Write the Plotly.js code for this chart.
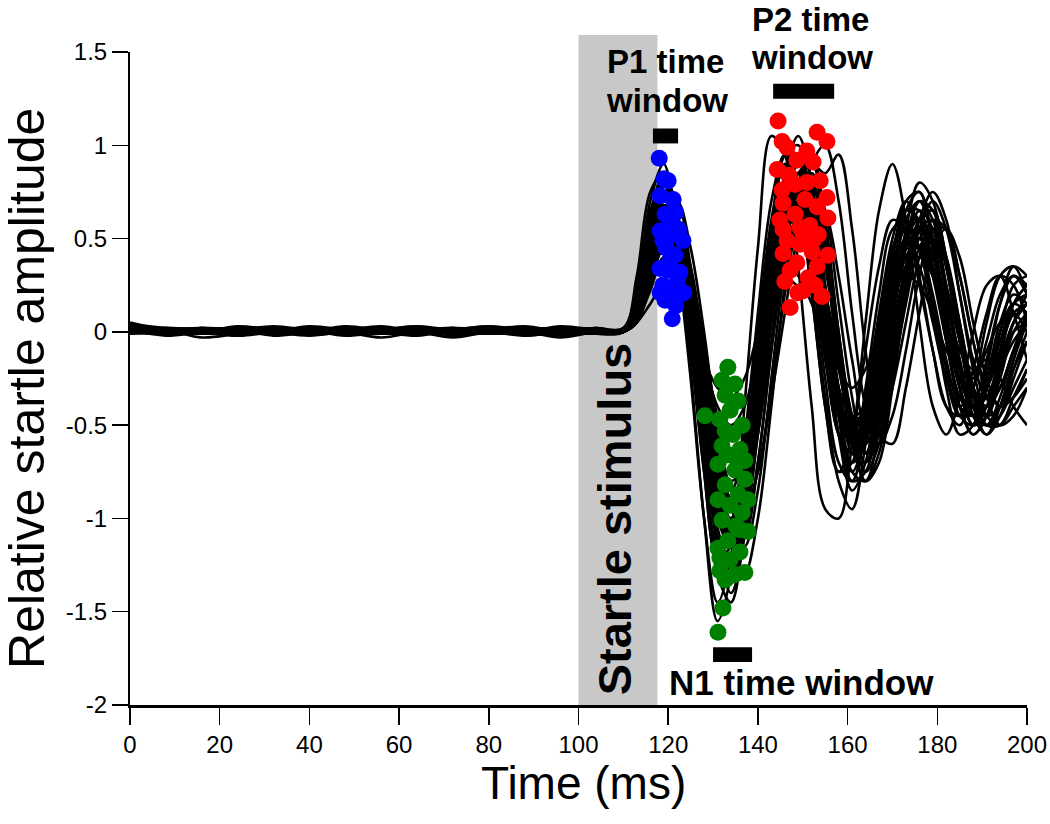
<!DOCTYPE html>
<html>
<head>
<meta charset="utf-8">
<script src="https://cdn.plot.ly/plotly-3.0.1.min.js"></script>
<style>html,body{margin:0;padding:0;background:#fff;}#chart{width:1050px;height:824px;}</style>
</head>
<body>
<div id="chart"></div>
<script>
// Sample times (ms)
const TIME = [0,8,16,24,32,40,48,56,64,72,80,88,96,104,110,113,116,119,122,125,128,131,134,137,140,143,146,149,152,155,158,161,164,167,170,173,176,179,182,185,188,191,194,197,200];

// Individual startle traces (relative amplitude at TIME samples)
const trace01 = [0.05,0.01,-0.01,0.00,0.01,0.02,0.00,-0.01,0.01,0.00,0.02,0.01,0.00,0.01, 0.02,0.25,0.70,0.90,0.50,-0.20,-1.00,-1.55,-1.30,-0.60,0.10,0.70,0.95,0.75,0.25,-0.35,-0.80,-0.95,-0.60,-0.10,0.35,0.55,0.45,0.15,-0.20,-0.45,-0.50,-0.30,0.00,0.15,0.10];
const trace02 = [0.02,-0.01,0.00,0.02,0.01,-0.01,0.00,0.02,0.01,-0.01,0.00,0.01,0.02,0.00, 0.00,0.12,0.45,0.70,0.60,0.20,-0.40,-0.90,-1.05,-0.85,-0.35,0.20,0.60,0.75,0.55,0.05,-0.40,-0.60,-0.50,-0.15,0.20,0.40,0.45,0.30,0.00,-0.25,-0.40,-0.35,-0.15,0.05,0.15];
const trace03 = [0.00,0.01,-0.03,-0.01,0.01,0.00,0.02,0.01,-0.01,0.00,0.01,-0.01,0.00,0.01, 0.00,0.05,0.15,0.25,0.20,0.05,-0.15,-0.30,-0.35,-0.25,0.00,0.25,0.35,0.30,0.15,-0.05,-0.20,-0.30,-0.20,0.00,0.20,0.30,0.25,0.10,-0.10,-0.20,-0.25,-0.10,0.05,0.10,0.00];
const trace04 = [0.01,0.00,0.01,-0.01,0.00,0.03,0.01,-0.01,0.00,0.02,0.00,-0.01,0.01,0.00, 0.00,0.05,0.30,0.60,0.70,0.45,0.00,-0.55,-0.95,-1.05,-0.70,-0.10,0.40,0.80,0.95,0.60,0.00,-0.45,-0.65,-0.50,-0.10,0.30,0.55,0.60,0.35,0.00,-0.30,-0.45,-0.40,-0.20,-0.05];
const trace05 = [0.02,0.01,0.00,0.01,-0.02,0.00,0.01,0.02,0.00,-0.01,0.01,0.03,0.00,-0.01, 0.01,0.20,0.55,0.80,0.55,0.00,-0.65,-1.20,-1.30,-0.95,-0.30,0.35,0.85,1.05,0.80,0.25,-0.35,-0.75,-0.80,-0.50,-0.05,0.35,0.60,0.65,0.40,0.05,-0.30,-0.50,-0.45,-0.25,-0.05];
const trace06 = [-0.01,0.00,0.02,0.01,0.00,-0.01,0.01,0.00,0.01,0.02,0.00,0.00,-0.03,0.00, 0.00,0.10,0.40,0.60,0.45,0.05,-0.45,-0.85,-0.95,-0.70,-0.20,0.30,0.55,0.55,0.30,-0.10,-0.45,-0.55,-0.35,0.00,0.30,0.45,0.35,0.05,-0.25,-0.40,-0.30,-0.05,0.20,0.30,0.25];
const trace07 = [0.03,0.01,-0.01,0.00,0.02,0.01,-0.02,0.00,0.01,0.00,-0.01,0.01,0.02,0.01, 0.00,0.08,0.35,0.55,0.50,0.25,-0.15,-0.60,-0.90,-0.95,-0.75,-0.35,0.10,0.55,0.90,1.00,0.70,0.10,-0.40,-0.60,-0.45,-0.10,0.30,0.55,0.55,0.30,-0.05,-0.35,-0.50,-0.45,-0.30];
const trace08 = [0.01,0.02,0.00,-0.01,0.01,0.00,0.01,0.03,0.00,-0.01,0.00,0.01,0.00,0.02, 0.02,0.30,0.75,0.85,0.40,-0.25,-1.00,-1.45,-1.20,-0.40,0.45,1.05,0.95,0.35,-0.40,-0.95,-1.00,-0.60,-0.10,0.35,0.60,0.55,0.25,-0.10,-0.40,-0.50,-0.30,0.05,0.30,0.35,0.20];
const trace09 = [0.00,-0.01,0.01,0.02,0.00,-0.02,0.00,0.01,0.00,0.01,0.03,0.00,-0.01,0.00, 0.00,0.10,0.45,0.75,0.70,0.35,-0.20,-0.75,-1.10,-1.00,-0.55,0.05,0.50,0.75,0.70,0.35,-0.10,-0.50,-0.65,-0.45,-0.05,0.35,0.55,0.50,0.20,-0.15,-0.40,-0.45,-0.25,0.00,0.10];
const trace10 = [0.02,0.00,0.01,0.00,-0.01,0.01,0.00,-0.01,0.02,0.00,0.01,0.00,0.01,-0.01, 0.00,0.15,0.50,0.65,0.40,-0.05,-0.55,-0.95,-1.00,-0.70,-0.15,0.40,0.70,0.65,0.20,-0.40,-0.75,-0.55,0.05,0.65,0.90,0.60,0.05,-0.40,-0.55,-0.35,0.00,0.25,0.30,0.10,-0.15];
const trace11 = [0.01,0.01,0.00,0.02,0.01,0.00,-0.01,0.01,0.00,-0.03,0.00,0.01,0.00,0.01, 0.00,0.05,0.25,0.50,0.55,0.35,-0.10,-0.65,-1.10,-1.30,-1.00,-0.40,0.25,0.70,0.85,0.65,0.15,-0.35,-0.65,-0.60,-0.25,0.15,0.45,0.55,0.40,0.05,-0.30,-0.50,-0.50,-0.35,-0.20];
const trace12 = [0.03,0.00,-0.01,0.01,0.03,0.01,0.00,-0.01,0.01,0.00,0.02,-0.02,0.00,0.00, 0.01,0.18,0.60,0.85,0.65,0.10,-0.55,-1.10,-1.25,-0.90,-0.25,0.40,0.80,0.85,0.50,-0.05,-0.55,-0.75,-0.55,-0.10,0.30,0.50,0.45,0.20,-0.15,-0.40,-0.45,-0.25,0.05,0.20,0.15];
const trace13 = [0.00,0.02,0.01,0.00,-0.01,0.00,0.03,0.01,0.00,0.01,-0.01,0.00,0.02,0.01, 0.00,0.06,0.22,0.40,0.38,0.15,-0.20,-0.55,-0.70,-0.55,-0.15,0.20,0.45,0.50,0.35,0.00,-0.35,-0.50,-0.40,-0.10,0.25,0.45,0.50,0.30,0.00,-0.30,-0.45,-0.40,-0.20,0.00,0.05];
const trace14 = [0.01,-0.01,0.00,0.01,0.00,0.02,0.00,-0.03,0.00,0.01,0.00,0.02,0.01,0.00, 0.00,0.10,0.35,0.55,0.45,0.10,-0.35,-0.75,-0.85,-0.60,-0.15,0.20,0.30,0.25,0.35,0.20,-0.15,-0.45,-0.50,-0.25,0.10,0.40,0.50,0.35,0.05,-0.25,-0.40,-0.30,-0.05,0.15,0.20];
const trace15 = [0.02,0.01,0.01,-0.02,0.00,0.01,0.01,0.00,0.02,0.00,-0.01,0.00,0.00,0.02, 0.00,0.12,0.45,0.70,0.60,0.15,-0.40,-0.85,-1.00,-0.80,-0.35,0.15,0.55,0.80,0.90,0.85,0.95,0.55,-0.10,-0.55,-0.60,-0.30,0.10,0.45,0.55,0.40,0.05,-0.25,-0.40,-0.35,-0.20];
const trace16 = [0.00,0.00,0.02,0.01,-0.01,0.00,0.02,0.01,0.00,0.00,0.01,0.00,0.03,0.01, 0.00,0.10,0.40,0.65,0.55,0.15,-0.35,-0.80,-1.00,-0.85,-0.40,0.10,0.55,0.70,0.55,0.10,-0.35,-0.60,-0.55,-0.20,0.20,0.50,0.60,0.45,0.15,-0.10,-0.20,-0.15,-0.25,-0.40,-0.50];
const trace17 = [0.04,0.02,0.00,-0.01,0.00,0.01,0.00,0.02,0.01,0.00,0.00,-0.01,0.01,0.00, 0.01,0.22,0.65,0.80,0.50,-0.05,-0.70,-1.25,-1.35,-0.95,-0.20,0.50,0.95,0.95,0.55,-0.05,-0.55,-0.70,-0.45,0.00,0.40,0.65,0.60,0.30,-0.05,-0.35,-0.45,-0.30,0.00,0.25,0.30];
const trace18 = [0.01,0.00,-0.01,0.00,0.02,0.00,0.01,0.00,-0.02,0.01,0.03,0.01,0.00,0.01, 0.00,0.08,0.30,0.50,0.50,0.25,-0.20,-0.70,-0.95,-0.85,-0.45,0.05,0.45,0.70,0.70,0.40,-0.05,-0.45,-0.60,-0.40,0.00,0.35,0.55,0.50,0.25,-0.05,-0.30,-0.40,-0.30,-0.10,0.05];
const trace19 = [0.00,0.01,0.00,0.03,0.01,-0.01,0.00,0.00,0.01,0.02,0.00,0.01,-0.02,0.00, 0.01,0.15,0.50,0.75,0.55,0.05,-0.60,-1.15,-1.20,-0.80,-0.10,0.55,0.90,0.80,0.35,-0.25,-0.70,-0.80,-0.50,-0.05,0.40,0.65,0.65,0.35,-0.05,-0.40,-0.55,-0.45,-0.20,0.05,0.20];
const trace20 = [0.02,0.00,0.01,0.00,0.00,0.01,-0.01,0.01,0.03,0.00,0.01,0.00,0.00,0.01, 0.00,0.08,0.28,0.45,0.40,0.15,-0.15,-0.40,-0.50,-0.40,-0.10,0.20,0.45,0.50,0.35,0.05,-0.30,-0.45,-0.40,-0.15,0.15,0.35,0.40,0.30,0.05,-0.20,-0.35,-0.35,-0.20,-0.05,0.05];
const trace21 = [0.01,0.00,0.02,0.00,-0.01,0.01,0.00,0.01,-0.01,0.00,0.02,0.00,0.01,0.00, 0.00,0.14,0.52,0.78,0.62,0.12,-0.50,-1.00,-1.15,-0.90,-0.30,0.30,0.70,0.82,0.60,0.10,-0.40,-0.70,-0.60,-0.20,0.30,0.65,0.75,0.50,0.10,-0.30,-0.50,-0.40,-0.10,0.15,0.20];
const trace22 = [0.00,0.01,0.00,-0.02,0.01,0.00,0.01,0.02,0.00,0.01,0.00,-0.01,0.00,0.01, 0.00,0.10,0.42,0.68,0.58,0.22,-0.30,-0.85,-1.15,-1.10,-0.70,-0.10,0.45,0.85,0.90,0.55,0.00,-0.50,-0.75,-0.60,-0.20,0.25,0.60,0.75,0.60,0.20,-0.20,-0.45,-0.50,-0.40,-0.30];
const trace23 = [0.02,0.01,0.00,0.00,0.01,-0.01,0.02,0.00,0.00,0.01,-0.01,0.01,0.00,0.00, 0.01,0.18,0.58,0.82,0.58,0.05,-0.60,-1.15,-1.40,-1.10,-0.40,0.30,0.80,0.95,0.70,0.15,-0.45,-0.80,-0.75,-0.40,0.10,0.55,0.80,0.70,0.35,-0.05,-0.40,-0.55,-0.45,-0.20,0.00];
const trace24 = [0.01,0.00,-0.01,0.01,0.00,0.00,0.02,0.00,-0.01,0.00,0.01,0.02,0.00,0.00, 0.00,0.08,0.32,0.58,0.55,0.28,-0.15,-0.65,-0.95,-0.90,-0.55,-0.05,0.45,0.80,0.85,0.50,-0.05,-0.55,-0.80,-0.70,-0.30,0.20,0.55,0.70,0.55,0.20,-0.15,-0.35,-0.30,-0.10,0.10];
const trace25 = [0.00,0.02,0.01,0.00,0.00,0.01,0.00,-0.01,0.02,0.01,0.00,0.00,-0.01,0.01, 0.01,0.20,0.62,0.85,0.55,-0.05,-0.75,-1.30,-1.45,-1.05,-0.30,0.45,0.95,1.00,0.65,0.05,-0.55,-0.85,-0.70,-0.25,0.25,0.60,0.70,0.50,0.10,-0.30,-0.50,-0.45,-0.20,0.05,0.15];
const trace26 = [0.01,0.01,0.00,0.01,-0.01,0.00,0.01,0.00,0.01,-0.02,0.00,0.01,0.01,0.00, 0.00,0.09,0.38,0.62,0.55,0.20,-0.30,-0.80,-1.05,-0.95,-0.50,0.05,0.50,0.70,0.60,0.20,-0.30,-0.60,-0.65,-0.35,0.10,0.50,0.70,0.60,0.25,-0.15,-0.45,-0.55,-0.40,-0.15,0.05];
const trace27 = [0.02,0.00,0.00,0.01,0.01,0.00,-0.01,0.01,0.00,0.00,0.02,0.00,0.00,0.01, 0.00,0.12,0.48,0.72,0.55,0.10,-0.45,-0.95,-1.10,-0.80,-0.20,0.35,0.65,0.60,0.30,-0.15,-0.55,-0.65,-0.40,0.05,0.45,0.60,0.45,0.10,-0.25,-0.45,-0.40,-0.15,0.15,0.30,0.20];
const trace28 = [0.00,0.00,0.01,0.02,0.00,-0.01,0.00,0.01,0.00,0.00,0.01,0.00,0.02,0.00, 0.00,0.07,0.30,0.52,0.50,0.30,-0.05,-0.50,-0.85,-0.95,-0.75,-0.30,0.20,0.60,0.75,0.65,0.30,-0.15,-0.50,-0.55,-0.30,0.05,0.40,0.60,0.55,0.30,-0.05,-0.30,-0.40,-0.35,-0.25];
const trace29 = [0.01,0.00,0.01,0.00,0.02,0.00,-0.01,0.00,0.01,0.01,0.00,-0.02,0.00,0.01, 0.00,0.16,0.55,0.80,0.60,0.10,-0.50,-1.05,-1.25,-1.00,-0.45,0.15,0.65,0.90,0.75,0.25,-0.30,-0.65,-0.70,-0.40,0.05,0.45,0.70,0.65,0.35,-0.05,-0.35,-0.50,-0.40,-0.15,0.10];
const trace30 = [0.00,0.01,0.00,-0.01,0.00,0.02,0.01,0.00,0.00,-0.01,0.01,0.00,0.02,0.00, 0.00,0.06,0.25,0.45,0.45,0.25,-0.10,-0.45,-0.65,-0.60,-0.30,0.10,0.40,0.55,0.45,0.10,-0.30,-0.55,-0.55,-0.30,0.10,0.45,0.65,0.55,0.20,-0.20,-0.45,-0.50,-0.35,-0.10,0.10];
const trace31 = [0.03,0.01,0.00,0.00,-0.01,0.00,0.02,0.01,0.00,0.01,0.00,0.01,-0.01,0.00, 0.01,0.20,0.60,0.75,0.45,-0.10,-0.75,-1.20,-1.15,-0.70,0.00,0.60,0.90,0.70,0.20,-0.40,-0.75,-0.70,-0.30,0.20,0.55,0.60,0.30,-0.10,-0.40,-0.45,-0.20,0.10,0.30,0.25,0.05];
const trace32 = [0.01,-0.02,0.00,0.01,0.00,0.00,0.01,-0.01,0.01,0.00,0.02,0.01,0.00,0.00, 0.00,0.10,0.40,0.62,0.55,0.20,-0.35,-0.85,-1.05,-0.90,-0.45,0.10,0.60,0.85,0.80,0.40,-0.15,-0.60,-0.80,-0.65,-0.25,0.20,0.50,0.55,0.35,0.00,-0.30,-0.40,-0.30,-0.10,0.05];
const trace33 = [0.02,0.01,0.01,0.00,0.00,-0.01,0.00,0.01,0.03,0.01,0.00,0.00,0.01,0.01, 0.00,0.12,0.45,0.68,0.52,0.10,-0.40,-0.85,-0.95,-0.70,-0.25,0.25,0.60,0.65,0.40,-0.05,-0.45,-0.60,-0.40,0.00,0.40,0.70,0.75,0.45,0.00,-0.40,-0.55,-0.45,-0.15,0.15,0.25];
const trace34 = [0.00,0.00,-0.01,0.00,0.01,0.01,0.00,0.00,-0.01,0.02,0.01,0.00,0.00,-0.01, 0.00,0.08,0.35,0.60,0.60,0.30,-0.15,-0.70,-1.05,-1.15,-0.85,-0.25,0.35,0.75,0.80,0.45,-0.05,-0.50,-0.70,-0.55,-0.15,0.30,0.60,0.65,0.40,0.00,-0.35,-0.50,-0.45,-0.30,-0.15];
const trace35 = [0.01,0.01,0.02,0.00,0.00,0.00,-0.01,0.02,0.00,0.00,-0.01,0.01,0.01,0.00, 0.01,0.15,0.50,0.72,0.50,0.00,-0.55,-1.00,-1.10,-0.80,-0.25,0.35,0.75,0.80,0.45,-0.10,-0.55,-0.65,-0.35,0.10,0.50,0.70,0.55,0.15,-0.30,-0.55,-0.50,-0.20,0.15,0.35,0.30];
const trace36 = [0.02,0.00,0.00,0.01,0.02,0.01,0.00,0.00,0.00,0.01,0.00,-0.01,0.00,0.02, 0.00,0.09,0.35,0.55,0.48,0.18,-0.25,-0.65,-0.80,-0.70,-0.35,0.10,0.50,0.65,0.55,0.20,-0.20,-0.45,-0.45,-0.20,0.15,0.45,0.55,0.40,0.10,-0.20,-0.35,-0.30,-0.10,0.10,0.15];

// P1 peaks (blue)
const p1Time = [118.0,119.1,118.2,121.1,119.3,118.2,120.9,123.3,119.5,121.5,118.2,120.0,122.6,118.8,120.9,123.5,119.3,121.7,120.9,120.0,120.5,122.3,118.8,120.5,122.1,118.2,121.7];
const p1Amp  = [0.93,0.82,0.73,0.71,0.63,0.54,0.52,0.49,0.45,0.41,0.34,0.33,0.32,0.25,0.22,0.21,0.17,0.14,0.07,0.81,0.60,0.55,0.49,0.39,0.28,0.21,0.64];

// N1 troughs (green)
const n1Time = [133.3,132.0,134.9,132.7,135.6,133.8,131.5,136.5,134.4,132.0,136.0,133.1,131.1,134.9,137.1,132.7,135.6,131.1,133.8,136.5,132.0,135.1,137.8,133.3,131.1,136.0,133.8,131.5,134.9,132.7,137.1,136.0,134.4,132.7,137.1,131.5,137.8,132.2,131.1,128.2];
const n1Amp  = [-0.19,-0.26,-0.28,-0.34,-0.37,-0.42,-0.47,-0.50,-0.55,-0.61,-0.63,-0.66,-0.71,-0.74,-0.79,-0.82,-0.87,-0.90,-0.93,-0.97,-1.01,-1.04,-1.07,-1.12,-1.16,-1.18,-1.22,-1.28,-1.30,-1.33,-1.29,-1.06,-0.66,-0.53,-0.69,-1.21,-0.90,-1.48,-1.61,-0.45];

// P2 peaks (red)
const p2Time = [144.5,145.4,146.5,153.2,155.4,150.9,144.3,148.7,152.3,145.4,145.6,155.4,150.9,153.2,144.9,155.6,149.4,146.5,152.3,145.6,155.6,148.7,153.2,146.0,150.1,154.3,147.2,150.5,148.3,151.6,149.4,147.2,151.2,152.1,148.3,153.9,146.9,150.1,153.5,152.7,148.9,145.6];
const p2Amp  = [1.13,1.02,0.99,1.07,1.02,0.97,0.87,0.92,0.91,0.76,0.69,0.72,0.80,0.67,0.60,0.61,0.56,0.49,0.49,0.42,0.41,0.37,0.35,0.27,0.22,0.19,0.13,0.71,0.63,0.57,0.47,0.33,0.29,0.43,0.79,0.81,0.84,0.52,0.52,0.25,0.21,0.55];

// Axis ticks
const xTickVals = [0,20,40,60,80,100,120,140,160,180,200];
const xTickText = ['0','20','40','60','80','100','120','140','160','180','200'];
const yTickVals = [-2,-1.5,-1,-0.5,0,0.5,1,1.5];
const yTickText = ['-2','-1.5','-1','-0.5','0','0.5','1','1.5'];

// Stimulus and windows (ms)
const stimulusWindow = [100, 117.6];
const p1Window = [116.6, 122.2];
const n1Window = [130.0, 138.7];
const p2Window = [143.4, 157.0];

const allTraces = [trace01,trace02,trace03,trace04,trace05,trace06,trace07,trace08,trace09,trace10,
                   trace11,trace12,trace13,trace14,trace15,trace16,trace17,trace18,trace19,trace20,
                   trace21,trace22,trace23,trace24,trace25,trace26,trace27,trace28,trace29,trace30,
                   trace31,trace32,trace33,trace34,trace35,trace36];

const data = allTraces.map(s => ({
  x: TIME, y: s, type: 'scatter', mode: 'lines',
  line: {color: '#000000', width: 2.6, shape: 'spline', smoothing: 1},
  hoverinfo: 'skip', showlegend: false
}));

function dots(xs, ys, color) {
  return {x: xs, y: ys, type: 'scatter', mode: 'markers',
    marker: {color: color, size: 17, line: {width: 0}}, hoverinfo: 'skip', showlegend: false};
}
data.push(dots(p1Time, p1Amp, '#0000ff'));
data.push(dots(n1Time, n1Amp, '#008000'));
data.push(dots(p2Time, p2Amp, '#ff0000'));

const FONT = 'Liberation Sans, Arial, sans-serif';
const boldFont = {family: FONT, size: 33, color: '#000', weight: 'bold'};

const layout = {
  width: 1050, height: 824,
  margin: {l: 130, r: 23, t: 52, b: 119},
  paper_bgcolor: '#fff', plot_bgcolor: '#fff',
  font: {family: FONT, color: '#000'},
  showlegend: false,
  xaxis: {
    range: [0, 200], tickvals: xTickVals, ticktext: xTickText,
    ticks: 'outside', ticklen: 17, tickwidth: 1.5, tickcolor: '#000',
    showline: true, linecolor: '#000', linewidth: 2.5,
    showgrid: false, zeroline: false,
    tickfont: {family: FONT, size: 24, color: '#000'}
  },
  yaxis: {
    range: [-2, 1.5], tickvals: yTickVals, ticktext: yTickText,
    ticks: 'outside', ticklen: 16, tickwidth: 1.5, tickcolor: '#000',
    showline: true, linecolor: '#000', linewidth: 2,
    showgrid: false, zeroline: false,
    tickfont: {family: FONT, size: 24, color: '#000'}
  },
  shapes: [
    {type: 'rect', xref: 'x', yref: 'paper', x0: stimulusWindow[0], x1: stimulusWindow[1], y0: 0, y1: 1.026,
     fillcolor: '#c8c8c8', line: {width: 0}, layer: 'below'},
    {type: 'rect', xref: 'x', yref: 'y', x0: p1Window[0], x1: p1Window[1], y0: 1.01, y1: 1.09,
     fillcolor: '#000', line: {width: 0}, layer: 'above'},
    {type: 'rect', xref: 'x', yref: 'y', x0: p2Window[0], x1: p2Window[1], y0: 1.25, y1: 1.33,
     fillcolor: '#000', line: {width: 0}, layer: 'above'},
    {type: 'rect', xref: 'x', yref: 'y', x0: n1Window[0], x1: n1Window[1], y0: -1.77, y1: -1.69,
     fillcolor: '#000', line: {width: 0}, layer: 'above'}
  ],
  annotations: [
    {x: -0.1148, y: 0.484, xref: 'paper', yref: 'paper', text: 'Relative startle amplitude', showarrow: false, textangle: -90,
     font: {family: FONT, size: 50, color: '#000'}, xanchor: 'center', yanchor: 'middle'},
    {x: 0.506, y: -0.119, xref: 'paper', yref: 'paper', text: 'Time (ms)', showarrow: false,
     font: {family: FONT, size: 46, color: '#000'}, xanchor: 'center', yanchor: 'middle'},
    {x: 119.5, y: 1.45, xref: 'x', yref: 'y', text: 'P1 time', showarrow: false, font: boldFont, xanchor: 'center', yanchor: 'middle'},
    {x: 119.8, y: 1.24, xref: 'x', yref: 'y', text: 'window', showarrow: false, font: boldFont, xanchor: 'center', yanchor: 'middle'},
    {x: 151.8, y: 1.0505, xref: 'x', yref: 'paper', text: 'P2 time', showarrow: false, font: boldFont, xanchor: 'center', yanchor: 'middle'},
    {x: 152.0, y: 0.991, xref: 'x', yref: 'paper', text: 'window', showarrow: false, font: boldFont, xanchor: 'center', yanchor: 'middle'},
    {x: 149.8, y: -1.88, xref: 'x', yref: 'y', text: 'N1 time window', showarrow: false,
     font: {family: FONT, size: 35, color: '#000', weight: 'bold'}, xanchor: 'center', yanchor: 'middle'},
    {x: 107.9, y: -1.0, xref: 'x', yref: 'y', text: 'Startle stimulus', showarrow: false, textangle: -90,
     font: {family: FONT, size: 47, color: '#000', weight: 'bold'}, xanchor: 'center', yanchor: 'middle'}
  ]
};

Plotly.newPlot('chart', data, layout, {displayModeBar: false, staticPlot: true});
</script>
</body>
</html>
